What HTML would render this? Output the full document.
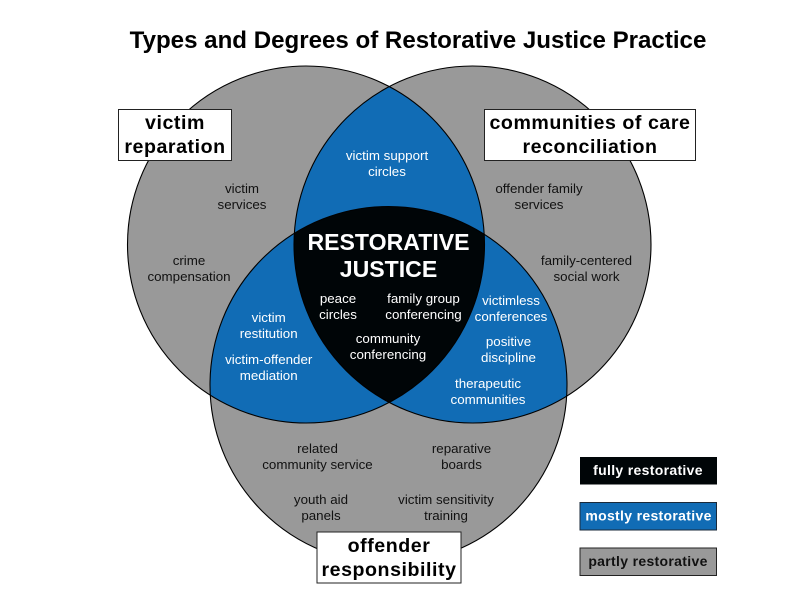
<!DOCTYPE html>
<html><head><meta charset="utf-8"><style>
html,body{margin:0;padding:0;background:#fff}
svg{display:block}
text{font-family:"Liberation Sans",Arial,sans-serif;text-anchor:middle}
.s{font-size:13.35px}
.k{fill:#111}
.w{fill:#fff}
.b{font-size:19.6px;font-weight:bold;fill:#000;letter-spacing:.55px}
.l{font-size:14px;font-weight:bold;letter-spacing:.32px}
</style></head><body>
<svg width="792" height="612" viewBox="0 0 792 612" xmlns="http://www.w3.org/2000/svg">
<defs>
<clipPath id="L"><circle cx="306" cy="244.5" r="178.5"/></clipPath>
<clipPath id="R"><circle cx="472.5" cy="244.5" r="178.5"/></clipPath>
<clipPath id="B"><circle cx="388.5" cy="385" r="178.5"/></clipPath>
</defs>
<rect width="792" height="612" fill="#fff"/>
<circle cx="306" cy="244.5" r="178.5" fill="#999"/>
<circle cx="472.5" cy="244.5" r="178.5" fill="#999"/>
<circle cx="388.5" cy="385" r="178.5" fill="#999"/>
<g clip-path="url(#L)"><circle cx="472.5" cy="244.5" r="178.5" fill="#116cb5"/></g>
<g clip-path="url(#L)"><circle cx="388.5" cy="385" r="178.5" fill="#116cb5"/></g>
<g clip-path="url(#R)"><circle cx="388.5" cy="385" r="178.5" fill="#116cb5"/></g>
<g clip-path="url(#L)"><g clip-path="url(#R)"><circle cx="388.5" cy="385" r="178.5" fill="#000507"/></g></g>
<g fill="none" stroke="#000" stroke-width="1.1">
<circle cx="306" cy="244.5" r="178.5"/>
<circle cx="472.5" cy="244.5" r="178.5"/>
<circle cx="388.5" cy="385" r="178.5"/>
</g>
<text x="418" y="48" style="font-size:24.1px;font-weight:bold" fill="#000">Types and Degrees of Restorative Justice Practice</text>

<g fill="#fff" stroke="#222" stroke-width="1">
<rect x="118.5" y="109.5" width="113" height="51"/>
<rect x="484.5" y="109.5" width="211" height="51"/>
<rect x="317" y="532" width="144" height="51"/>
</g>
<text class="b" x="175" y="129">victim</text>
<text class="b" x="175" y="153">reparation</text>
<text class="b" x="590" y="129">communities of care</text>
<text class="b" x="590" y="153">reconciliation</text>
<text class="b" x="389" y="552">offender</text>
<text class="b" x="389" y="576">responsibility</text>

<text class="s k" x="242" y="193">victim</text><text class="s k" x="242" y="209">services</text>
<text class="s k" x="189" y="265">crime</text><text class="s k" x="189" y="281">compensation</text>
<text class="s k" x="539" y="193">offender family</text><text class="s k" x="539" y="209">services</text>
<text class="s k" x="586.5" y="265">family-centered</text><text class="s k" x="586.5" y="281">social work</text>
<text class="s k" x="317.5" y="453">related</text><text class="s k" x="317.5" y="469">community service</text>
<text class="s k" x="461.5" y="453">reparative</text><text class="s k" x="461.5" y="469">boards</text>
<text class="s k" x="321" y="504">youth aid</text><text class="s k" x="321" y="520">panels</text>
<text class="s k" x="446" y="504">victim sensitivity</text><text class="s k" x="446" y="520">training</text>

<text class="s w" x="387" y="160">victim support</text><text class="s w" x="387" y="176">circles</text>
<text class="s w" x="268.7" y="322">victim</text><text class="s w" x="268.7" y="338">restitution</text>
<text class="s w" x="268.7" y="364">victim-offender</text><text class="s w" x="268.7" y="380">mediation</text>
<text class="s w" x="511" y="305">victimless</text><text class="s w" x="511" y="321">conferences</text>
<text class="s w" x="508.5" y="346">positive</text><text class="s w" x="508.5" y="362">discipline</text>
<text class="s w" x="488" y="388">therapeutic</text><text class="s w" x="488" y="404">communities</text>
<text class="s w" x="338" y="303">peace</text><text class="s w" x="338" y="319">circles</text>
<text class="s w" x="423.5" y="303">family group</text><text class="s w" x="423.5" y="319">conferencing</text>
<text class="s w" x="388" y="343">community</text><text class="s w" x="388" y="359">conferencing</text>
<text x="388.5" y="250" fill="#fff" style="font-size:23.1px;font-weight:bold">RESTORATIVE</text>
<text x="388.5" y="277" fill="#fff" style="font-size:23.1px;font-weight:bold">JUSTICE</text>

<rect x="580" y="457" width="137" height="27.5" fill="#000507"/>
<rect x="580" y="502.5" width="136.5" height="27.5" fill="#116cb5" stroke="#1a2a3a" stroke-width="1"/>
<rect x="580" y="548" width="136.5" height="27.5" fill="#999" stroke="#222" stroke-width="1"/>
<text class="l w" x="648" y="475">fully restorative</text>
<text class="l w" x="648.5" y="520.5">mostly restorative</text>
<text class="l k" x="648" y="566">partly restorative</text>
</svg>
</body></html>
